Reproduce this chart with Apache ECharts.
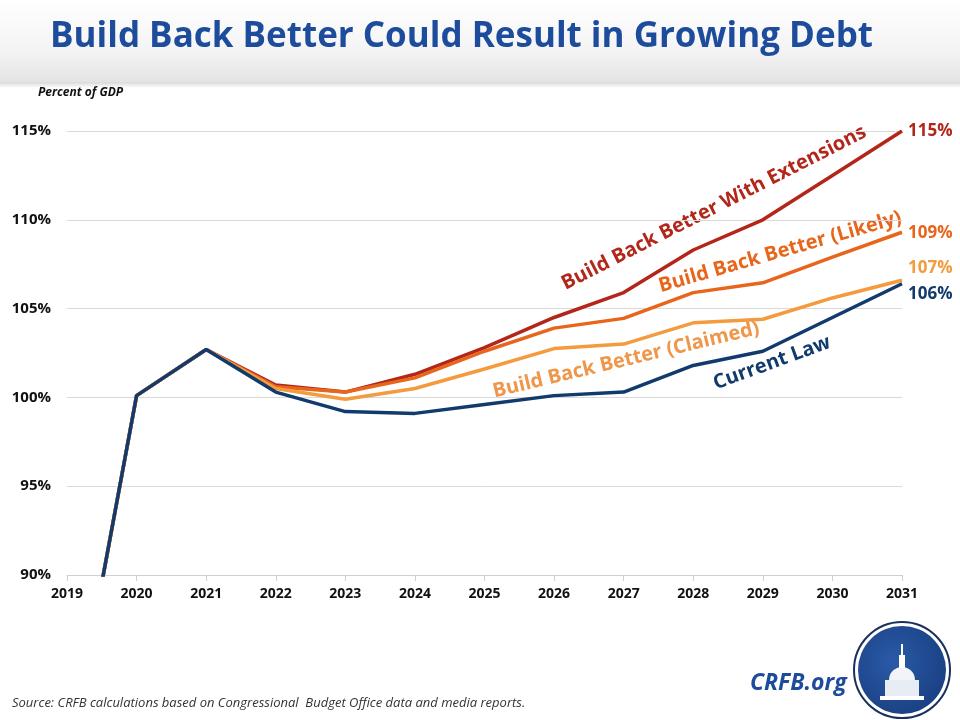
<!DOCTYPE html>
<html><head><meta charset="utf-8">
<script src="https://cdn.jsdelivr.net/npm/echarts@6/dist/echarts.min.js"></script>
<style>html,body{margin:0;padding:0;background:#fff}#c{width:960px;height:720px}</style>
</head><body><div id="c"></div>
<script>
const years = ['2019','2020','2021','2022','2023','2024','2025','2026','2027','2028','2029','2030','2031'];
const extensions = [79, 100.1, 102.7, 100.7, 100.3, 101.3, 102.8, 104.5, 105.9, 108.3, 110.0, 112.5, 115.0];
const likely     = [79, 100.1, 102.7, 100.6, 100.3, 101.1, 102.6, 103.9, 104.45, 105.9, 106.45, 107.9, 109.3];
const claimed    = [79, 100.1, 102.7, 100.5, 99.9, 100.5, 101.6, 102.75, 103.0, 104.2, 104.4, 105.6, 106.6];
const currentLaw = [79, 100.1, 102.7, 100.3, 99.2, 99.1, 99.6, 100.1, 100.3, 101.8, 102.6, 104.5, 106.4];
const endLabels = {ext:'115%', likely:'109%', claimed:'107%', cl:'106%'};
const yTicks = [90, 95, 100, 105, 110, 115];

const C_EXT = '#B3261A', C_LIK = '#E8661C', C_CLA = '#F39B3E', C_CL = '#113A6D';
const FONT = 'Open Sans';

function ser(name, data, color, lbl, dy) {
  return {
    name, type:'line', data, symbol:'none', smooth:false,
    lineStyle:{color, width:3.5}, itemStyle:{color},
    endLabel:{show:true, formatter:lbl, color, fontFamily:FONT, fontWeight:'bold', fontSize:17, distance:6, offset:[0, dy]},
    clip:true, animation:false
  };
}

const chart = echarts.init(document.getElementById('c'), null, {renderer:'canvas'});
chart.setOption({
  animation:false,
  backgroundColor:'#ffffff',
  grid:{left:67, right:58, top:131, bottom:145},
  xAxis:{type:'category', data:years, boundaryGap:false,
    axisLine:{lineStyle:{color:'#d0d0d0', width:1}},
    axisTick:{show:true, length:6, lineStyle:{color:'#d0d0d0'}},
    axisLabel:{color:'#111', fontFamily:FONT, fontWeight:'bold', fontSize:14, margin:12},
    splitLine:{show:false}},
  yAxis:{type:'value', min:90, max:115, interval:5,
    axisLine:{show:false}, axisTick:{show:false},
    axisLabel:{color:'#111', fontFamily:FONT, fontWeight:'bold', fontSize:15, margin:16,
      formatter:v=>yTicks.includes(v)? v+'%' : ''},
    splitLine:{lineStyle:{color:'#d9d9d9', width:1}}},
  series:[
    ser('Build Back Better With Extensions', extensions, C_EXT, endLabels.ext, 0),
    ser('Build Back Better (Likely)', likely, C_LIK, endLabels.likely, 1),
    ser('Build Back Better (Claimed)', claimed, C_CLA, endLabels.claimed, -12),
    ser('Current Law', currentLaw, C_CL, endLabels.cl, 10)
  ],
  graphic:[
    {type:'rect', z:-10, shape:{x:0,y:0,width:960,height:82},
      style:{fill:new echarts.graphic.LinearGradient(0,0,0,1,[{offset:0,color:'#ffffff'},{offset:0.6,color:'#f4f4f4'},{offset:1,color:'#e4e4e4'}])}},
    {type:'rect', z:-10, shape:{x:0,y:82,width:960,height:6},
      style:{fill:new echarts.graphic.LinearGradient(0,0,0,1,[{offset:0,color:'#d8d8d8'},{offset:1,color:'#ffffff'}])}},
    {type:'text', left:50, top:20, style:{text:'Build Back Better Could Result in Growing Debt', fill:'#1E4C9C', font:'bold 35px "Open Sans"'}},
    {type:'text', left:38, top:87, style:{text:'Percent of GDP', fill:'#111', font:'italic bold 12px "Open Sans"'}},
    {type:'text', x:714, y:208, rotation:27*Math.PI/180, style:{text:'Build Back Better With Extensions', fill:C_EXT, font:'bold 20px "Open Sans"', align:'center', verticalAlign:'middle'}},
    {type:'text', x:780, y:252, rotation:16*Math.PI/180, style:{text:'Build Back Better (Likely)', fill:C_LIK, font:'bold 20px "Open Sans"', align:'center', verticalAlign:'middle'}},
    {type:'text', x:626, y:360, rotation:13.5*Math.PI/180, style:{text:'Build Back Better (Claimed)', fill:'#F0964A', font:'bold 20px "Open Sans"', align:'center', verticalAlign:'middle'}},
    {type:'text', x:772, y:363, rotation:20*Math.PI/180, style:{text:'Current Law', fill:C_CL, font:'bold 20px "Open Sans"', align:'center', verticalAlign:'middle'}},
    {type:'text', left:12, top:697, style:{text:'Source: CRFB calculations based on Congressional  Budget Office data and media reports.', fill:'#333', font:'italic 13px "Open Sans"'}},
    {type:'text', left:750, top:672, style:{text:'CRFB.org', fill:'#1E4C9C', font:'italic bold 23px "Open Sans"'}},
    {type:'circle', shape:{cx:902, cy:670, r:48}, style:{fill:'#ffffff', stroke:'#1a2f5e', lineWidth:2}},
    {type:'circle', shape:{cx:902, cy:670, r:44}, style:{fill:new echarts.graphic.RadialGradient(0.4,0.4,0.8,[{offset:0,color:'#2a5aa8'},{offset:1,color:'#163a7a'}])}},
    {type:'group', children:[
      {type:'rect', shape:{x:885,y:680,width:34,height:18}, style:{fill:'#e8ecf3'}},
      {type:'rect', shape:{x:880,y:696,width:44,height:4}, style:{fill:'#ffffff'}},
      {type:'sector', shape:{cx:902, cy:680, r:13, r0:0, startAngle:Math.PI, endAngle:2*Math.PI}, style:{fill:'#f2f4f8'}},
      {type:'rect', shape:{x:899,y:655,width:6,height:13}, style:{fill:'#ffffff'}},
      {type:'rect', shape:{x:901,y:644,width:2,height:11}, style:{fill:'#ffffff'}}
    ]}
  ]
});
</script></body></html>
